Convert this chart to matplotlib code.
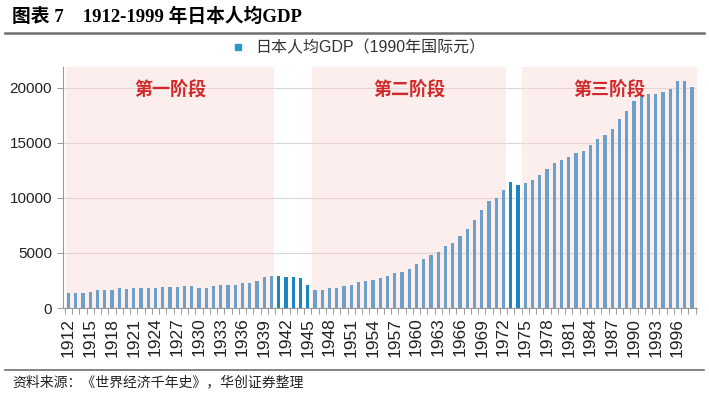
import numpy as np
import matplotlib
matplotlib.use('Agg')
import matplotlib.pyplot as plt
from matplotlib.lines import Line2D
from matplotlib.patches import Rectangle

plt.rcParams['font.family'] = ['Liberation Sans', 'Noto Sans CJK SC', 'DejaVu Sans']

#### Data
years = list(range(1912, 1999))
gdp = [1380, 1390, 1330, 1430, 1630, 1660, 1670, 1830, 1700, 1860,
       1830, 1810, 1850, 1890, 1870, 1870, 1990, 2030, 1850, 1840,
       1960, 2120, 2100, 2120, 2250, 2300, 2480, 2820, 2880, 2880,
       2860, 2850, 2700, 2080, 1640, 1640, 1780, 1800, 1980, 2130,
       2340, 2470, 2580, 2770, 2950, 3140, 3290, 3550, 3990, 4430,
       4780, 5130, 5670, 5930, 6510, 7150, 7980, 8870, 9710, 10040,
       10730, 11430, 11150, 11340, 11670, 12060, 12590, 13160, 13430, 13750,
       14080, 14310, 14770, 15330, 15680, 16250, 17190, 17940, 18790, 19360,
       19480, 19480, 19610, 19860, 20600, 20650, 20100]
stage_names = ['第一阶段', '第二阶段', '第三阶段']
stage_start = [1912, 1946, 1975]
stage_end = [1940, 1972, 1998]
yticks = [0, 5000, 10000, 15000, 20000]

title = '图表 7    1912-1999 年日本人均GDP'
legend_label = '日本人均GDP（1990年国际元）'
source = '资料来源：《世界经济千年史》，华创证券整理'

bar_color = '#1c86c4'
pink = '#fbd0d0'
red = '#d02a2a'

fig = plt.figure(figsize=(7.09, 3.93), dpi=100)
ax = fig.add_axes([63/709, 1-308/393, (697-63)/709, (308-67)/393])

x = np.arange(len(years))
ax.bar(x, gdp, width=0.45, color=bar_color, zorder=2, label=legend_label)

xmin, xmax = -0.75, len(years) - 0.3
ax.set_xlim(xmin, xmax)
ax.set_ylim(0, 21900)

# pink stage bands drawn over the bars (semi transparent)
for name, s, e in zip(stage_names, stage_start, stage_end):
    x0 = max(s - 1912 - 0.4, xmin)
    x1 = min(e - 1912 + 0.4, xmax) if e != years[-1] else xmax
    ax.add_patch(Rectangle((x0, 0), x1 - x0, 21900, facecolor=pink, alpha=0.36,
                           edgecolor='none', zorder=3))
    ax.text((x0 + x1) / 2, 19800, name, ha='center', va='center', fontsize=13,
            color=red, fontweight='bold', family=['Noto Sans CJK SC'], zorder=4)

ax.set_yticks(yticks)
ax.set_yticklabels([str(v) for v in yticks], fontsize=11, color='#222222')
ax.yaxis.grid(True, color='#d9d9d9', linewidth=0.8, zorder=1)

lab_idx = x[::3]
ax.set_xticks(lab_idx)
ax.set_xticklabels([str(years[i]) for i in lab_idx], rotation=90, fontsize=12.5,
                   color='#222222')
ax.set_xticks(np.arange(len(years) + 1) - 0.5, minor=True)
ax.tick_params(axis='x', which='major', length=0, pad=7)
ax.tick_params(axis='x', which='minor', length=4, color='#999999', width=0.7)
ax.tick_params(axis='y', length=4, color='#999999', width=0.7, pad=4)

for sp in ['top', 'right']:
    ax.spines[sp].set_visible(False)
for sp in ['left', 'bottom']:
    ax.spines[sp].set_color('#999999')
    ax.spines[sp].set_linewidth(0.8)

# legend at top centre
fig.legend(handles=[Line2D([], [], marker='s', linestyle='none', color='#2a96cc',
                           markersize=5, label=legend_label)],
           loc='center', bbox_to_anchor=(354/709, 1-48/393), frameon=False,
           handletextpad=0.1, labelcolor='#333333',
           prop={'family': ['Liberation Sans', 'Noto Sans CJK SC'], 'size': 11.5})

# header and footer
fig.text(12/709, 1-17/393, title, ha='left', va='center', fontsize=13.5,
         fontweight='bold', family=['Liberation Serif', 'Noto Sans CJK SC'])
fig.add_artist(Line2D([5/709, 704/709], [1-33/393, 1-33/393], color='#6e6e6e',
                      linewidth=1.8))
fig.add_artist(Line2D([5/709, 704/709], [1-370/393, 1-370/393], color='#6e6e6e',
                      linewidth=1.2))
fig.text(12/709, 1-382/393, source, ha='left', va='center', fontsize=10,
         color='#222222', family=['Noto Sans CJK SC'])

fig.savefig('out.png', dpi=100)
